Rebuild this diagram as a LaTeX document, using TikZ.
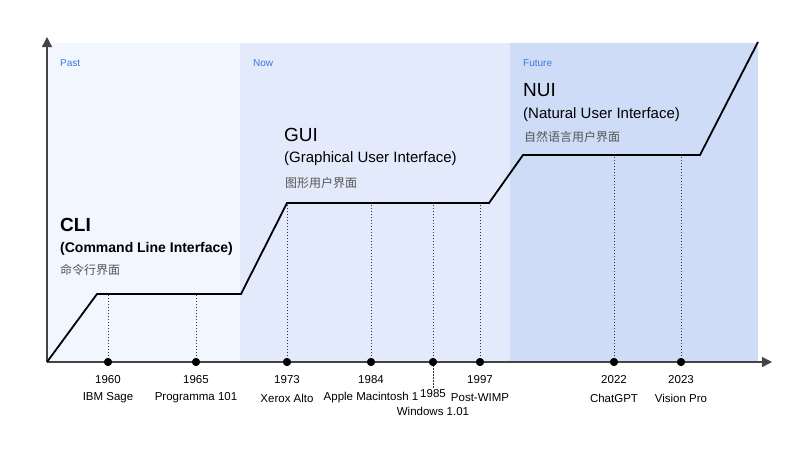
\documentclass[tikz,border=0pt]{standalone}
\usepackage{fontspec}
\setmainfont{Liberation Sans}
\newfontfamily\cjk{Noto Sans CJK SC}
\usetikzlibrary{arrows.meta}
\definecolor{bgpast}{HTML}{F2F6FE}
\definecolor{bgnow}{HTML}{E2EAFB}
\definecolor{bgfut}{HTML}{CFDCF7}
\definecolor{eraBlue}{HTML}{3A78E0}
\definecolor{axisgray}{HTML}{444444}
\definecolor{cngray}{HTML}{555555}
\tikzset{
  curveline/.style={line width=1.8pt, black, line join=miter},
  axisline/.style={line width=1.3pt, axisgray, -{Triangle[length=10pt,width=10pt]}},
  dotline/.style={line width=0.9pt, black!80, dash pattern=on 1.5pt off 1.5pt},
  tdot/.style={circle, fill=black, inner sep=0pt, minimum size=8pt},
  era/.style={anchor=west, inner sep=0pt, text=eraBlue, font=\fontsize{10}{12}\selectfont},
  ttl/.style={anchor=west, inner sep=0pt, font=\fontsize{19}{22}\selectfont},
  sub/.style={anchor=west, inner sep=0pt, font=\fontsize{15}{18}\selectfont},
  cn/.style={anchor=west, inner sep=0pt, text=cngray, font=\cjk\fontsize{12}{14}\selectfont},
  yr/.style={inner sep=0pt, font=\fontsize{11.5}{14}\selectfont},
}
\begin{document}
\begin{tikzpicture}[x=1pt,y=-1pt]
\useasboundingbox (0,0) rectangle (800,448);
% backgrounds
\fill[bgpast] (47,43) rectangle (240,362);
\fill[bgnow] (240,43) rectangle (510,362);
\fill[bgfut] (510,43) rectangle (758,362);
% era labels
\node[era] (past) at (60,63) {Past};
\node[era] (now) at (253,63) {Now};
\node[era] (fut) at (523,63) {Future};
% titles
\node[ttl,font=\bfseries\fontsize{19}{22}\selectfont] (cli) at (60,225) {CLI};
\node[sub,font=\bfseries\fontsize{14}{18}\selectfont] (clis) at (60,249) {(Command Line Interface)};
\node[cn] (clic) at (60,270) {命令行界面};
\node[ttl] (gui) at (284,135) {GUI};
\node[sub] (guis) at (284,159) {(Graphical User Interface)};
\node[cn] (guic) at (285,183) {图形用户界面};
\node[ttl] (nui) at (523,90) {NUI};
\node[sub] (nuis) at (523,115) {(Natural User Interface)};
\node[cn] (nuic) at (524,137) {自然语言用户界面};
% curve points
\coordinate (c0) at (47,362);
\coordinate (c1) at (97,294);
\coordinate (c2) at (241,294);
\coordinate (c3) at (287,203);
\coordinate (c4) at (489,203);
\coordinate (c5) at (523,155);
\coordinate (c6) at (700,155);
\coordinate (c7) at (758,42);
% dotted drops
\coordinate (u1960) at (108,294);
\coordinate (u1965) at (196,294);
\coordinate (u1973) at (287,203);
\coordinate (u1984) at (371,203);
\coordinate (u1985) at (433,203);
\coordinate (u1997) at (480,203);
\coordinate (u2022) at (614,155);
\coordinate (u2023) at (681,155);
\coordinate (l1985) at (433,389);
\node[tdot] (d1960) at (108,362) {};
\node[tdot] (d1965) at (196,362) {};
\node[tdot] (d1973) at (287,362) {};
\node[tdot] (d1984) at (371,362) {};
\node[tdot] (d1985) at (433,362) {};
\node[tdot] (d1997) at (480,362) {};
\node[tdot] (d2022) at (614,362) {};
\node[tdot] (d2023) at (681,362) {};
\foreach \y in {1960,1965,1973,1984,1985,1997,2022,2023}{
  \draw[dotline] (d\y.center) -- (u\y);
}
\draw[dotline] (d1985.center) -- (l1985);
% axes
\coordinate (xend) at (772,362);
\coordinate (yend) at (47,37);
\draw[axisline] (c0) -- (xend);
\draw[axisline] (c0) -- (yend);
% curve
\draw[curveline] (c0) -- (c1) -- (c2) -- (c3) -- (c4) -- (c5) -- (c6) -- (c7);
% redraw dots on top
\foreach \y in {1960,1965,1973,1984,1985,1997,2022,2023}{
  \fill (d\y) circle (4pt);
}
% labels
\node[yr] (y1960) at (108,380) {1960};
\node[yr] (n1960) at (108,398) {IBM Sage};
\node[yr] (y1965) at (196,380) {1965};
\node[yr] (n1965) at (196,398) {Programma 101};
\node[yr] (y1973) at (287,380) {1973};
\node[yr] (n1973) at (287,398) {Xerox Alto};
\node[yr] (y1984) at (371,380) {1984};
\node[yr] (n1984) at (371,398) {Apple Macintosh 1};
\node[yr] (y1985) at (433,394) {1985};
\node[yr] (n1985) at (433,411) {Windows 1.01};
\node[yr] (y1997) at (480,380) {1997};
\node[yr] (n1997) at (480,398) {Post-WIMP};
\node[yr] (y2022) at (614,380) {2022};
\node[yr] (n2022) at (614,398) {ChatGPT};
\node[yr] (y2023) at (681,380) {2023};
\node[yr] (n2023) at (681,398) {Vision Pro};
\end{tikzpicture}
\end{document}
